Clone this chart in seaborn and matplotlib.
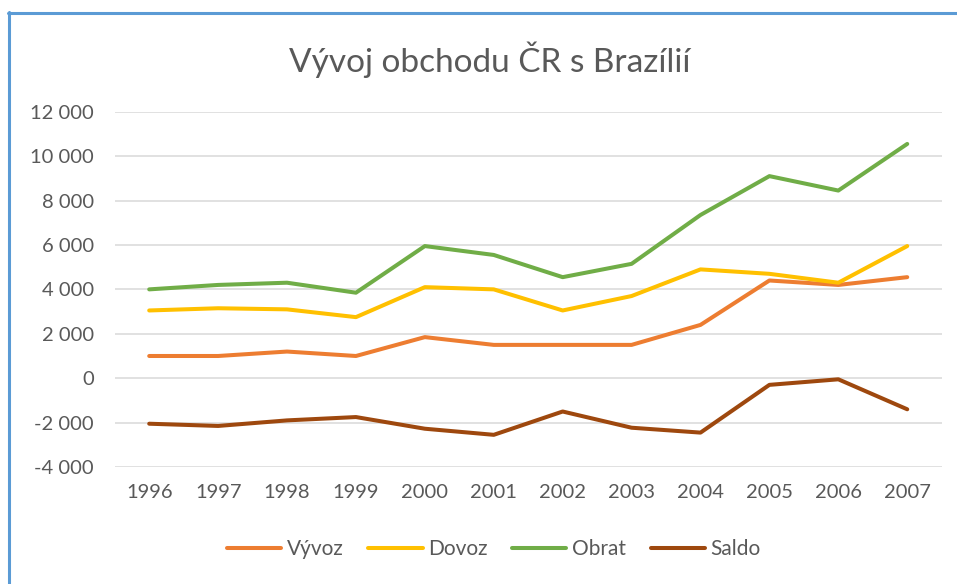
import pandas as pd
import matplotlib.pyplot as plt
import seaborn as sns
from matplotlib.lines import Line2D
from matplotlib.ticker import FuncFormatter, MultipleLocator

# data (mil. Kč)
years = [1996, 1997, 1998, 1999, 2000, 2001, 2002, 2003, 2004, 2005, 2006, 2007]
vyvoz = [1000, 1000, 1200, 1000, 1850, 1500, 1500, 1500, 2400, 4400, 4200, 4550]
dovoz = [3050, 3150, 3100, 2750, 4100, 4000, 3050, 3700, 4900, 4700, 4300, 5950]
obrat = [4000, 4200, 4300, 3850, 5950, 5550, 4550, 5150, 7350, 9100, 8450, 10550]
saldo = [-2050, -2150, -1900, -1750, -2275, -2550, -1500, -2230, -2450, -300, -50, -1400]

series_names = ['Vývoz', 'Dovoz', 'Obrat', 'Saldo']
palette = {'Vývoz': '#ED7D31', 'Dovoz': '#FFC000', 'Obrat': '#70AD47', 'Saldo': '#9E480E'}

df = pd.DataFrame({'Rok': years, 'Vývoz': vyvoz, 'Dovoz': dovoz,
                   'Obrat': obrat, 'Saldo': saldo})
long_df = df.melt(id_vars='Rok', var_name='Řada', value_name='Hodnota')

sns.set_theme(style='white')
plt.rcParams['font.family'] = ['Lato', 'DejaVu Sans']
text_color = '#595959'

fig = plt.figure(figsize=(9.57, 5.84), dpi=100)
ax = fig.add_axes([0.1199, 0.2003, 0.8641, 0.6084])

sns.lineplot(data=long_df, x='Rok', y='Hodnota', hue='Řada', hue_order=series_names,
             palette=palette, linewidth=2.9, ax=ax, legend=False, sort=False)
for line in ax.get_lines():
    line.set_solid_capstyle('round')
    line.set_solid_joinstyle('round')

ax.set_xlim(years[0] - 0.5, years[-1] + 0.5)
ax.set_ylim(-4000, 12000)
ax.yaxis.set_major_locator(MultipleLocator(2000))
ax.yaxis.set_major_formatter(FuncFormatter(lambda v, p: f"{v:,.0f}".replace(',', ' ')))
ax.set_xticks(years)
ax.set_xticklabels([str(y) for y in years])
ax.grid(axis='y', color='#D9D9D9', linewidth=1.1)
ax.grid(axis='x', visible=False)
ax.set_axisbelow(True)
for s in ax.spines.values():
    s.set_visible(False)
ax.tick_params(axis='y', length=0, pad=15, labelsize=14.5, labelcolor=text_color)
ax.tick_params(axis='x', length=0, pad=12, labelsize=14.5, labelcolor=text_color)
ax.set_xlabel('')
ax.set_ylabel('')

fig.text(0.512, 0.898, 'Vývoj obchodu ČR s Brazílií', ha='center', va='center',
         fontsize=24, color=text_color)

handles = [Line2D([0], [0], color=palette[n], linewidth=2.9, solid_capstyle='round')
           for n in series_names]
fig.legend(handles, series_names, loc='center', bbox_to_anchor=(0.516, 0.06), ncol=4,
           frameon=False, fontsize=15, labelcolor=text_color, handlelength=2.6,
           handletextpad=0.25, columnspacing=1.2)

# chart frame (blue border visible on top and left)
frame_color = '#5B9BD5'
fig.add_artist(Line2D([9 / 957, 9 / 957], [0, 1 - 12 / 584], transform=fig.transFigure,
                      color=frame_color, linewidth=2.2))
fig.add_artist(Line2D([8 / 957, 1], [1 - 12.5 / 584, 1 - 12.5 / 584], transform=fig.transFigure,
                      color=frame_color, linewidth=2.2))

fig.savefig('out.png', dpi=100)
